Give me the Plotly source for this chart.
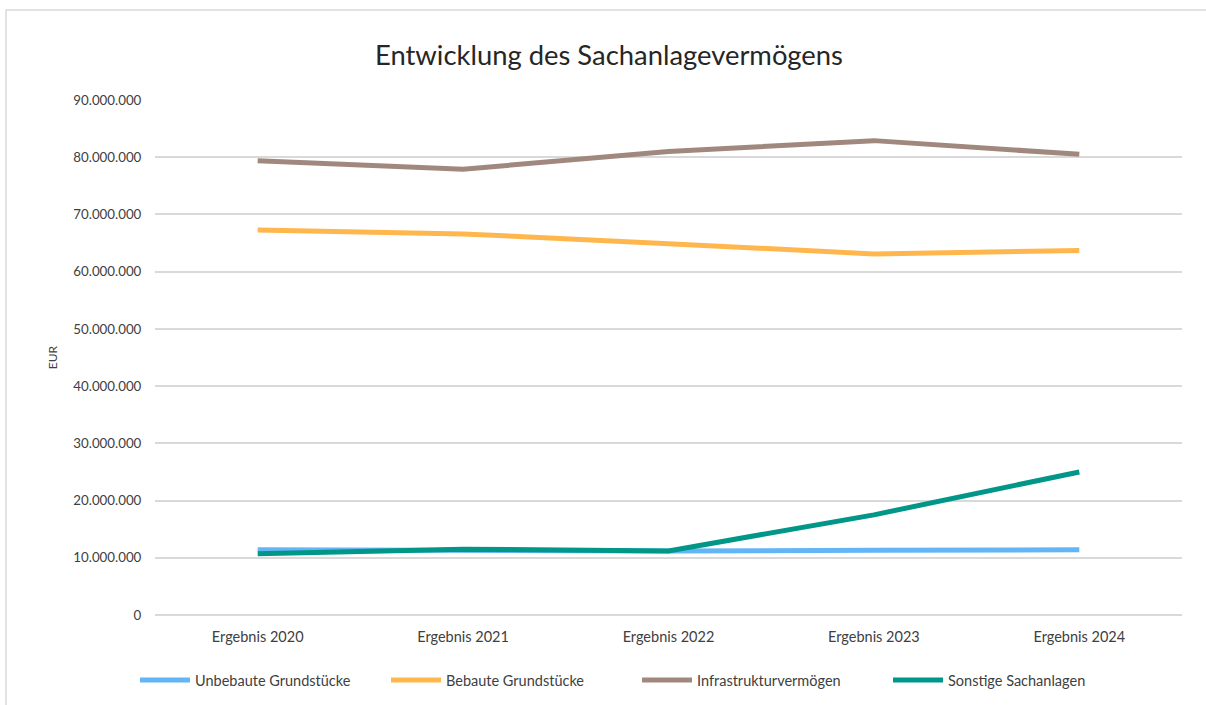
import plotly.graph_objects as go

categories = ["Ergebnis 2020", "Ergebnis 2021", "Ergebnis 2022", "Ergebnis 2023", "Ergebnis 2024"]
unbebaute = [11400000, 11200000, 11200000, 11300000, 11400000]
bebaute = [67300000, 66600000, 64900000, 63100000, 63700000]
infrastruktur = [79400000, 77900000, 81000000, 82900000, 80500000]
sonstige = [10700000, 11500000, 11200000, 17500000, 25000000]

series_names = ["Unbebaute Grundstücke", "Bebaute Grundstücke", "Infrastrukturvermögen", "Sonstige Sachanlagen"]
series_values = [unbebaute, bebaute, infrastruktur, sonstige]
series_colors = ["#64B5F6", "#FFB74D", "#A1887F", "#009688"]

tick_vals = [0, 10000000, 20000000, 30000000, 40000000, 50000000, 60000000, 70000000, 80000000, 90000000]
tick_text = ["0", "10.000.000", "20.000.000", "30.000.000", "40.000.000", "50.000.000",
             "60.000.000", "70.000.000", "80.000.000", "90.000.000"]

FONT = "Lato, Carlito, Calibri, sans-serif"

fig = go.Figure()
for name, vals, col in zip(series_names, series_values, series_colors):
    fig.add_trace(go.Scatter(x=categories, y=vals, mode="lines", name=name,
                             line=dict(color=col, width=5)))

# body margin is removed via post_script, so window pixels == figure pixels
W, H = 1206, 705
L, R, T, B = 155, W - 1182, 100, H - 615
pw, ph = W - L - R, H - T - B

def px_x(p):
    return (p - L) / pw

def px_y(p):
    return (H - B - p) / ph

fig.update_layout(
    width=W, height=H,
    margin=dict(l=L, r=R, t=T, b=B, autoexpand=False),
    paper_bgcolor="white", plot_bgcolor="white",
    font=dict(family=FONT, size=13, color="#404040"),
    title=dict(text="Entwicklung des Sachanlagevermögens", x=609 / W, xanchor="center",
               y=1 - 55 / H, yanchor="middle",
               font=dict(family=FONT, size=27.4, color="#262626")),
    xaxis=dict(type="category", showgrid=False, zeroline=False, showline=False,
               ticks="outside", ticklen=9, tickcolor="rgba(0,0,0,0)",
               tickfont=dict(size=14.5, color="#404040"),
               range=[-0.5, 4.5]),
    yaxis=dict(range=[0, 90000000], tickvals=tick_vals, ticktext=tick_text,
               showgrid=True, gridcolor="#D9D9D9", gridwidth=1.5,
               zeroline=True, zerolinecolor="#D9D9D9", zerolinewidth=1.5,
               showline=False, ticks="outside", ticklen=10, tickcolor="rgba(0,0,0,0)",
               tickfont=dict(size=13.3, color="#404040"),
               title=dict(text="EUR", font=dict(size=12, color="#404040"), standoff=13)),
    legend=dict(orientation="h", xref="container", yref="container",
                x=637 / W, xanchor="center", y=1 - 680 / H, yanchor="middle",
                font=dict(size=14.5, color="#404040"), itemwidth=50, tracegroupgap=0,
                entrywidth=186, entrywidthmode="pixels"),
    showlegend=True,
    shapes=[dict(type="rect", xref="paper", yref="paper",
                 x0=px_x(6), x1=px_x(1225), y0=px_y(730), y1=px_y(10),
                 line=dict(color="#D9D9D9", width=1.5), layer="below")],
)

fig.write_html("out.html", config={"displayModeBar": False},
               post_script="document.body.style.margin='0';document.body.style.padding='0';")
